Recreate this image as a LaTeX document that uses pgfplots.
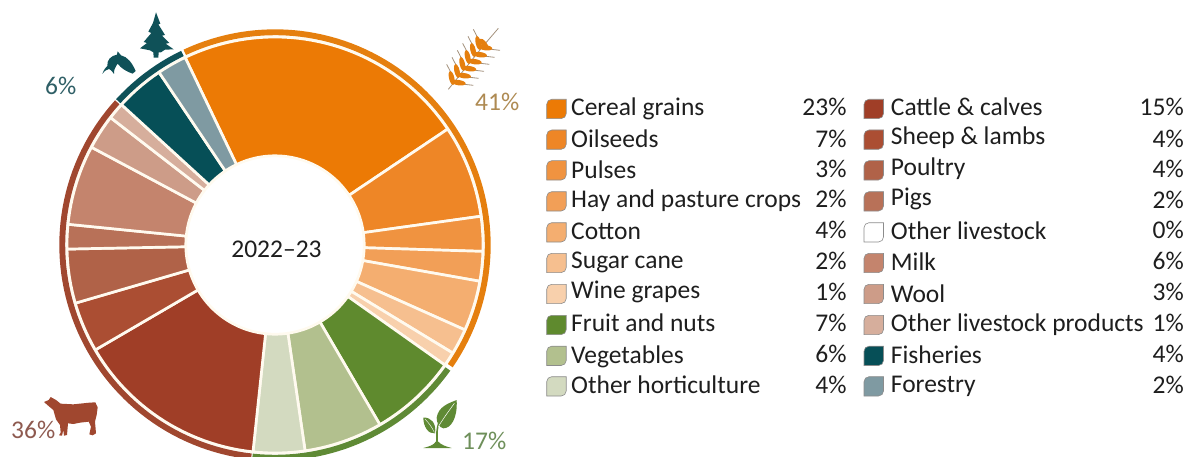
\documentclass[border=0pt]{standalone}
\usepackage{fontspec}
\setmainfont{Carlito}
\usepackage{pgfplots}
\pgfplotsset{compat=1.18}

% Slice colours
\definecolor{cereal}{HTML}{EC7A05}
\definecolor{oilseeds}{HTML}{EE8626}
\definecolor{pulses}{HTML}{F09340}
\definecolor{hay}{HTML}{F29F57}
\definecolor{cotton}{HTML}{F4AE70}
\definecolor{sugar}{HTML}{F6BF8F}
\definecolor{grapes}{HTML}{F8D0AC}
\definecolor{fruit}{HTML}{5F8A2E}
\definecolor{veg}{HTML}{B2C08E}
\definecolor{hort}{HTML}{D3DAC0}
\definecolor{cattle}{HTML}{A03E27}
\definecolor{sheep}{HTML}{AB4E33}
\definecolor{poultry}{HTML}{B06248}
\definecolor{pigs}{HTML}{B87158}
\definecolor{otherlive}{HTML}{FFFFFF}
\definecolor{milk}{HTML}{C4846D}
\definecolor{wool}{HTML}{CD9C88}
\definecolor{otherprod}{HTML}{D6AE9C}
\definecolor{fisheries}{HTML}{064F57}
\definecolor{forestry}{HTML}{7F9AA2}
% Outer band, labels and separators
\definecolor{bandcrop}{HTML}{E57F0E}
\definecolor{bandhort}{HTML}{5F8A35}
\definecolor{bandlive}{HTML}{A0472F}
\definecolor{bandfish}{HTML}{0F5158}
\definecolor{txtcrop}{HTML}{AE8A52}
\definecolor{txthort}{HTML}{6E8F5A}
\definecolor{txtlive}{HTML}{8E5A50}
\definecolor{txtfish}{HTML}{2F5F66}
\definecolor{sep}{HTML}{FFFAEF}
\definecolor{ink}{HTML}{1E1E1E}
\definecolor{awn}{HTML}{A3917C}

\def\cx{275}
\def\cy{245}
\def\startangle{-25.6}

% Annular sector from angle #1 to #2 (clockwise from 12 o'clock), radii #3 and #4, plot style #5
\newcommand\bandsector[5]{%
  \pgfmathtruncatemacro\nseg{max(2,ceil(abs(#2-(#1))/2))}%
  \gdef\sectorpts{}%
  \foreach \k in {0,...,\nseg}{%
    \pgfmathsetmacro\th{#1+(#2-(#1))*\k/\nseg}%
    \pgfmathsetmacro\px{\cx+#4*sin(\th)}%
    \pgfmathsetmacro\py{\cy-#4*cos(\th)}%
    \xdef\sectorpts{\sectorpts (\px,\py)}%
  }%
  \foreach \k in {\nseg,...,0}{%
    \pgfmathsetmacro\th{#1+(#2-(#1))*\k/\nseg}%
    \pgfmathsetmacro\px{\cx+#3*sin(\th)}%
    \pgfmathsetmacro\py{\cy-#3*cos(\th)}%
    \xdef\sectorpts{\sectorpts (\px,\py)}%
  }%
  \edef\plotcmd{\noexpand\addplot[#5,forget plot,mark=none,line join=round] coordinates {\sectorpts} --cycle;}%
  \plotcmd
}

% Legend swatch with two rounded diagonal corners
\newcommand\swatch[3]{%
  \draw[draw=black!45,line width=.6pt,fill=#3]
    (#1,#2+19.3) [rounded corners=5pt] -- (#1,#2) [sharp corners] -- (#1+19.5,#2)
    [rounded corners=5pt] -- (#1+19.5,#2+19.3) [sharp corners] -- cycle;}

\begin{document}
\begin{tikzpicture}
\useasboundingbox (0,0) rectangle (1191pt,456pt);
\begin{axis}[
  at={(0,0)},anchor=south west,
  scale only axis,width=1191pt,height=456pt,
  xmin=0,xmax=1191,ymin=0,ymax=456,y dir=reverse,
  hide axis,clip=true]

  % Share of total value, per cent, in drawing order
  \xdef\cumangle{\startangle}
  \foreach \share/\col/\tag in {
    22.7/cereal/a,7.2/oilseeds/b,2.7/pulses/c,2.3/hay/d,3.9/cotton/e,2.0/sugar/f,1.1/grapes/g,
    6.8/fruit/h,6.1/veg/i,4.0/hort/j,
    14.9/cattle/k,3.9/sheep/l,4.2/poultry/m,1.9/pigs/n,0.0/otherlive/o,6.2/milk/p,2.7/wool/q,1.3/otherprod/r,
    3.8/fisheries/s,2.3/forestry/t}{%
    \pgfmathsetmacro\nextangle{\cumangle+\share*3.6}%
    \pgfmathparse{\share>0?1:0}%
    \ifnum\pgfmathresult>0\relax
      \bandsector{\cumangle}{\nextangle}{89.2}{208}{fill=\col,draw=sep,line width=2.7pt}%
    \fi
    \expandafter\xdef\csname after\tag\endcsname{\nextangle}%
    \xdef\cumangle{\nextangle}%
  }

  % Outer band: one arc for each industry group, spanning its slices
  \pgfmathsetmacro\ringa{\startangle+0.5}
  \pgfmathsetmacro\ringb{\afterg-0.7}
  \bandsector{\ringa}{\ringb}{209.8}{215.7}{fill=bandcrop,draw=none}
  \pgfmathsetmacro\ringa{\afterg+0.4}
  \pgfmathsetmacro\ringb{\afterj}
  \bandsector{\ringa}{\ringb}{209.8}{215.7}{fill=bandhort,draw=none}
  \pgfmathsetmacro\ringa{\afterj+0.3}
  \pgfmathsetmacro\ringb{\afterr-0.3}
  \bandsector{\ringa}{\ringb}{209.8}{215.7}{fill=bandlive,draw=none}
  \pgfmathsetmacro\ringa{\afterr+0.1}
  \pgfmathsetmacro\ringb{\aftert-0.2}
  \bandsector{\ringa}{\ringb}{209.8}{215.7}{fill=bandfish,draw=none}
\end{axis}

\begin{scope}[x=1pt,y=-1pt,yshift=456pt]
  \fontsize{25.5}{30}\selectfont
  \node[anchor=base,inner sep=0,text=ink] at (276.5,257) {2022--23};

  % Group labels
  \node[anchor=base west,inner sep=0,text=txtcrop] at (475,111) {41\%};
  \node[anchor=base west,inner sep=0,text=txthort] at (462,449.7) {17\%};
  \node[anchor=base west,inner sep=0,text=txtlive] at (11,438.5) {36\%};
  \node[anchor=base west,inner sep=0,text=txtfish] at (45,95) {6\%};

  % Legend, left column
  \foreach \sy/\by/\py/\col/\name/\pct in {
    99.3/115.5/115.5/cereal/Cereal grains/23,
    130/147.8/147.2/oilseeds/Oilseeds/7,
    160.7/178.2/177.5/pulses/Pulses/3,
    191.7/207.8/207.8/hay/Hay and pasture crops/2,
    222.7/239.8/238.8/cotton/Cotton/4,
    253.3/268.2/269.5/sugar/Sugar cane/2,
    284.3/298.8/300.5/grapes/Wine grapes/1,
    315.3/331.8/331.2/fruit/Fruit and nuts/7,
    346.2/363.2/362.2/veg/Vegetables/6,
    376.7/393.2/393.2/hort/Other horticulture/4}{%
    \swatch{546.7}{\sy}{\col}
    \node[anchor=base west,inner sep=0,text=ink] at (571,\by) {\name};
    \node[anchor=base east,inner sep=0,text=ink] at (846.7,\py) {\pct\%};
  }
  % Legend, right column
  \foreach \sy/\by/\py/\col/\name/\pct in {
    99.3/115.5/115.5/cattle/Cattle \& calves/15,
    130/144.5/147.2/sheep/Sheep \& lambs/4,
    160.7/175.5/177.8/poultry/Poultry/4,
    191.7/205.5/208.2/pigs/Pigs/2,
    222.7/239.8/238.8/otherlive/Other livestock/0,
    253.3/270.5/269.8/milk/Milk/6,
    284.3/302.2/300.5/wool/Wool/3,
    315.3/331.8/331.2/otherprod/Other livestock products/1,
    346.2/363.8/362.2/fisheries/Fisheries/4,
    376.7/392.2/393.2/forestry/Forestry/2}{%
    \swatch{864}{\sy}{\col}
    \node[anchor=base west,inner sep=0,text=ink] at (890.7,\by) {\name};
    \node[anchor=base east,inner sep=0,text=ink] at (1184,\py) {\pct\%};
  }

  % Fir tree and fish
  \begin{scope}[shift={(95,5)},scale=1/3]
    \fill[bandfish] (183,22) -- (196,56) -- (190,58) -- (210,90) -- (201,92) -- (223,114) -- (212,116)
      -- (236,133) -- (210,134) -- (198,142) -- (191,142) -- (190,158) -- (176,158) -- (175,142) -- (165,136)
      -- (135,130) -- (156,114) -- (146,111) -- (169,84) -- (160,80) -- (174,54) -- cycle;
    \fill[bandfish] (22,207) .. controls (27,192) and (33,187) .. (37,183) .. controls (35,165) and (48,152) .. (66,149)
      -- (68,139) -- (78,151) .. controls (98,155) and (112,175) .. (122,198)
      -- (113,206) .. controls (95,200) and (78,190) .. (68,176) .. controls (60,188) and (56,195) .. (57,207)
      .. controls (50,197) and (46,193) .. (42,192) .. controls (35,193) and (28,198) .. (22,207) -- cycle;
  \end{scope}

  % Wheat ear
  \begin{scope}[shift={(260,0)},scale=1/3]
    \draw[awn,line width=.8pt] (565,268) -- (672,135) -- (715,85);
    \foreach \t in {0,1,...,5}{%
      \pgfmathsetmacro\ax{578+\t*16}%
      \pgfmathsetmacro\ay{250-\t*21}%
      \draw[awn,line width=.8pt] (\ax-5,\ay-32) -- (\ax-18,\ay-57);
      \draw[awn,line width=.8pt] (\ax+36,\ay+3) -- (\ax+62,\ay+6);
      \fill[bandcrop,rotate around={103:(\ax-3,\ay-16)}] (\ax-3,\ay-16) ellipse[x radius=21,y radius=8];
      \fill[bandcrop,rotate around={-8:(\ax+18,\ay-2)}] (\ax+18,\ay-2) ellipse[x radius=21,y radius=8];
    }
    \fill[bandcrop,rotate around={128:(672,132)}] (672,132) ellipse[x radius=20,y radius=8];
  \end{scope}

  % Steer
  \begin{scope}[shift={(40,390)},scale=1/3]
    \fill[bandlive] (12,36) -- (26,30) -- (32,21) -- (48,30) -- (62,41) -- (100,43) -- (148,38) -- (166,37) -- (173,52)
      -- (170,75) -- (165,95) -- (168,130) -- (158,136) -- (148,133) -- (153,110) -- (146,95)
      -- (120,98) -- (100,102) -- (84,100) -- (81,135) -- (72,137) -- (70,120) -- (66,137) -- (57,136) -- (62,128) -- (60,105) -- (48,88)
      -- (40,60) -- (28,50) -- cycle;
  \end{scope}

  % Seedling
  \begin{scope}[shift={(415,395)},scale=1/3]
    \fill[bandhort] (25,159) .. controls (40,155) and (58,150) .. (62,140) -- (70,140)
      .. controls (78,150) and (95,155) .. (110,159) -- cycle;
    \draw[bandhort,line width=1.6pt] (66,145) -- (66,110) .. controls (68,90) and (72,80) .. (80,70);
    \fill[bandhort] (125,15) .. controls (100,25) and (70,35) .. (65,68) .. controls (64,85) and (75,98) .. (85,100)
      .. controls (108,100) and (128,70) .. (125,15) -- cycle;
    \fill[bandhort] (25,68) .. controls (48,66) and (65,85) .. (60,115) .. controls (40,118) and (25,95) .. (25,68) -- cycle;
    \draw[white,line width=.5pt] (70,95) .. controls (85,70) and (100,50) .. (118,25);
    \draw[white,line width=.4pt] (58,112) .. controls (50,95) and (42,85) .. (30,72);
  \end{scope}
\end{scope}
\end{tikzpicture}
\end{document}
